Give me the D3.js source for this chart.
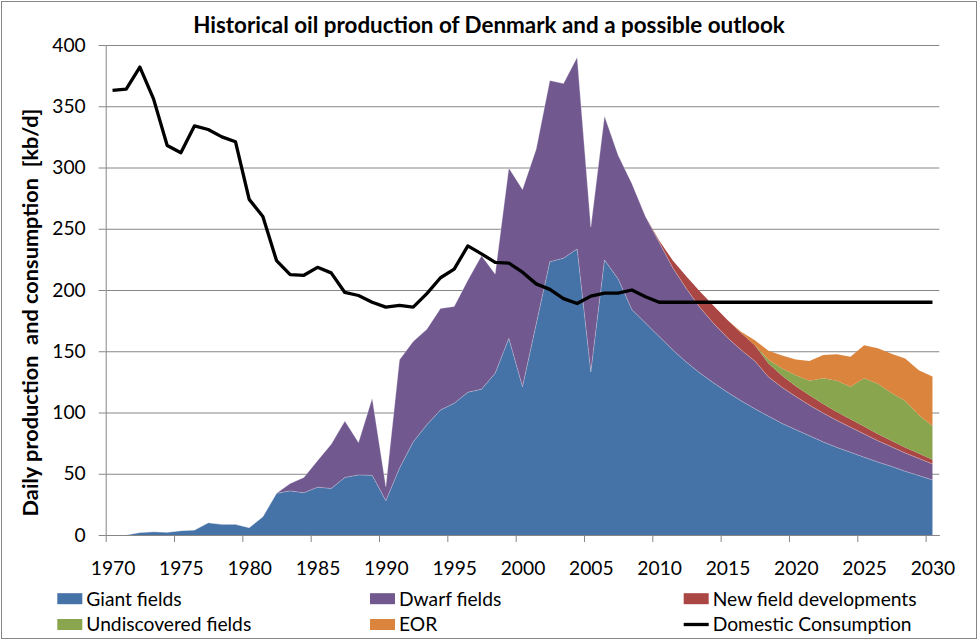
<!DOCTYPE html>
<html><head><meta charset="utf-8">
<script src="https://cdn.jsdelivr.net/npm/d3@7"></script>
<style>
body{margin:0;background:#fff}
svg{display:block}
text{font-family:Lato,'Open Sans',sans-serif;fill:#000}
</style>
</head><body>
<svg id="c" width="978" height="640"></svg>
<script>
// ---- data ----
const years = d3.range(1970, 2031);
const consumption = [363,364,382,356,318,312,334,331,325,321,
  274,260,224,212.5,212,218.5,214,198,195.5,190,
  186,187.5,186,197,210,217,236,229.5,222.5,222,
  214.5,205,200.5,193,189,195,197.5,197.5,200,194.5,
  190,190,190,190,190,190,190,190,190,190,
  190,190,190,190,190,190,190,190,190,190,190];
const giantFields = [0,0,2,2.7,2.2,3.5,4,10,8.7,8.7,
  6,15,34,36,34.5,39,38,47,49,48.7,
  28,54.5,76,90,102,107.5,116.5,119,132,160.5,
  121,172,223,226,233.5,133,224.5,209,184,173,
  162,151,141,132,124,116.5,109.5,103,97,91,
  86,81,76,71.5,67.5,63.5,59.5,56,52,48.5,45];
const dwarfFields = [0,0,0,0,0,0,0,0,0,0,
  0,0,0,6,12.5,21.7,36,46,26.5,63,
  11.5,88.5,82,78,83,79,91.5,109,81,139,
  161,143,148,142.5,156.5,118.5,117.5,101,103,87,
  77,67,60,53.5,48.5,44.5,41.5,39,32,29.5,
  27,25,23.5,22,20.5,19,17.5,16,15,14,13];
const newFieldDevelopments = [0,0,0,0,0,0,0,0,0,0,
  0,0,0,0,0,0,0,0,0,0,
  0,0,0,0,0,0,0,0,0,0,
  0,0,0,0,0,0,0,0,0,0,
  1.5,6,10,13,14.5,14.5,14,13,11,9.5,
  8.5,8,7.5,7,6.5,6,5.5,5,4.5,4,3.5];
const undiscoveredFields = [0,0,0,0,0,0,0,0,0,0,
  0,0,0,0,0,0,0,0,0,0,
  0,0,0,0,0,0,0,0,0,0,
  0,0,0,0,0,0,0,0,0,0,
  0,0,0,0,0,0,0,0,3,6,
  9,12,21,25.5,26.5,39.5,41,39,38,31.5,27.5];
const eor = [0,0,0,0,0,0,0,0,0,0,
  0,0,0,0,0,0,0,0,0,0,
  0,0,0,0,0,0,0,0,0,0,
  0,0,0,0,0,0,0,0,0,0,
  0,0,0,0,0,0,1,4,7.5,10.5,
  12.8,16,19,21.5,24.5,27,29,32,34.5,36.5,40.3];
const xTickLabels = [1970,1975,1980,1985,1990,1995,2000,2005,2010,2015,2020,2025,2030];
const yTicks = [0,50,100,150,200,250,300,350,400];
const seriesNames = ["Giant fields","Dwarf fields","New field developments","Undiscovered fields","EOR"];
const seriesColors = ["#4572A7","#71588F","#AA4643","#89A54E","#DB843D"];
const lineName = "Domestic Consumption";
const chartTitle = "Historical oil production of Denmark and a possible outlook";
const yTitle = "Daily production  and consumption  [kb/d]";

// ---- build ----
const svg = d3.select("#c");
const W = 978, H = 640;
const pL = 105.7, pR = 939.3, pT = 45, pB = 535;
const x = d3.scaleLinear().domain([1969.5, 2030.5]).range([pL, pR]);
const y = d3.scaleLinear().domain([0, 400]).range([pB, pT]);
const grid = "#868686";

svg.append("rect").attr("width", W).attr("height", H).attr("fill", "#fff");
svg.append("rect").attr("x", 1.5).attr("y", 1.5).attr("width", W - 3).attr("height", H - 3)
  .attr("fill", "none").attr("stroke", grid).attr("stroke-width", 1);

// gridlines
const gAxisGrid = svg.append("g").attr("transform", `translate(${pL},0)`)
  .call(d3.axisLeft(y).tickValues(yTicks).tickSize(-(pR - pL)).tickFormat(""));
gAxisGrid.select(".domain").remove();
gAxisGrid.selectAll("line").attr("stroke", grid).attr("stroke-width", 1);

// stacked areas
const keys = ["g","d","n","u","e"];
const table = years.map((yr, i) => ({year: yr, g: giantFields[i], d: dwarfFields[i],
  n: newFieldDevelopments[i], u: undiscoveredFields[i], e: eor[i]}));
const stack = d3.stack().keys(keys)(table);
const area = d3.area().x(d => x(d.data.year)).y0(d => y(d[0])).y1(d => y(d[1]));
svg.append("g").selectAll("path").data(stack).join("path")
  .attr("d", area).attr("fill", (d, i) => seriesColors[i]);
// pale seam on top of giant and dwarf layers
const seam = d3.line().x(d => x(d.data.year)).y(d => y(d[1]));
svg.append("g").selectAll("path").data(stack.slice(0, 2)).join("path")
  .attr("d", seam).attr("fill", "none").attr("stroke", "rgba(255,255,255,0.35)").attr("stroke-width", 0.8);

// consumption line
const line = d3.line().x((d, i) => x(years[i])).y(d => y(d));
svg.append("path").datum(consumption).attr("d", line)
  .attr("fill", "none").attr("stroke", "#000").attr("stroke-width", 3.3).attr("stroke-linejoin", "round");

// y axis
const gy = svg.append("g").attr("transform", `translate(${pL},0)`)
  .call(d3.axisLeft(y).tickValues(yTicks).tickSize(7).tickSizeOuter(0).tickPadding(13));
gy.select(".domain").attr("stroke", grid);
gy.selectAll("line").attr("stroke", grid);
gy.selectAll("text").attr("class", "lbl");

// x axis: tick marks between categories, labels on categories
const gxTicks = svg.append("g").attr("transform", `translate(0,${pB})`)
  .call(d3.axisBottom(x).tickValues(xTickLabels.map(v => v - 0.5)).tickSize(7).tickSizeOuter(0).tickFormat(""));
gxTicks.select(".domain").attr("stroke", grid);
gxTicks.selectAll("line").attr("stroke", grid);
const gx = svg.append("g").attr("transform", `translate(0,${pB})`)
  .call(d3.axisBottom(x).tickValues(xTickLabels).tickSize(0).tickFormat(d3.format("d")));
gx.select(".domain").remove();
gx.selectAll("text").attr("class", "lbl").attr("y", 40).attr("dy", 0);

// legend
const legendItems = [
  {name: seriesNames[0], color: seriesColors[0], col: 0, row: 0},
  {name: seriesNames[1], color: seriesColors[1], col: 1, row: 0},
  {name: seriesNames[2], color: seriesColors[2], col: 2, row: 0},
  {name: seriesNames[3], color: seriesColors[3], col: 0, row: 1},
  {name: seriesNames[4], color: seriesColors[4], col: 1, row: 1},
  {name: lineName, color: "#000", col: 2, row: 1, line: true}
];
const colX = [57.3, 370, 683.7], rowY = [598.7, 624.5];
const lg = svg.append("g").selectAll("g").data(legendItems).join("g")
  .attr("transform", d => `translate(${colX[d.col]},${rowY[d.row]})`);
lg.filter(d => !d.line).append("rect").attr("x", 0).attr("y", -5.5).attr("width", 25).attr("height", 11)
  .attr("fill", d => d.color);
lg.filter(d => d.line).append("line").attr("x1", 0).attr("x2", 25).attr("y1", 0).attr("y2", 0)
  .attr("stroke", "#000").attr("stroke-width", 3.3);
lg.append("text").attr("class", "lbl").attr("x", 29).attr("y", 0).attr("dy", "0.36em").text(d => d.name);

// titles
const t = svg.append("text").attr("x", 489).attr("y", 33).attr("text-anchor", "middle")
  .attr("font-weight", "bold").text(chartTitle);
const yt = svg.append("text").attr("transform", "translate(38,312.5) rotate(-90)").attr("text-anchor", "middle")
  .attr("font-weight", "bold").style("white-space", "pre").text(yTitle);

// fit font sizes to reference text widths
function fit(sel, base, target) {
  sel.attr("font-size", base);
  const w = sel.node().getComputedTextLength();
  return base * target / w;
}
const lblSize = fit(lg.filter(d => d.name === "Undiscovered fields").select("text"), 17, 165);
svg.selectAll(".lbl").attr("font-size", lblSize);
t.attr("font-size", fit(t, 20, 592));
yt.attr("font-size", fit(yt, 17, 408));
</script>
</body></html>
